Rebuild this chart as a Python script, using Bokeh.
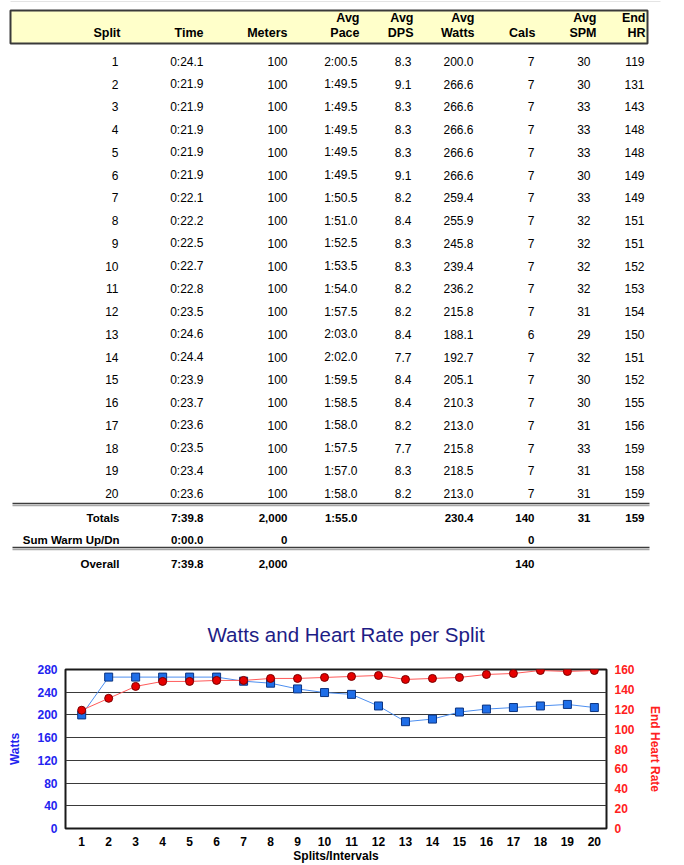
from bokeh.plotting import figure
from bokeh.models import Range1d, LinearAxis
from bokeh.core.properties import value
from bokeh.embed import file_html
from bokeh.resources import INLINE

# ---------------- data ----------------
splits = [1, 2, 3, 4, 5, 6, 7, 8, 9, 10, 11, 12, 13, 14, 15, 16, 17, 18, 19, 20]
times = ["0:24.1", "0:21.9", "0:21.9", "0:21.9", "0:21.9", "0:21.9", "0:22.1", "0:22.2",
         "0:22.5", "0:22.7", "0:22.8", "0:23.5", "0:24.6", "0:24.4", "0:23.9", "0:23.7",
         "0:23.6", "0:23.5", "0:23.4", "0:23.6"]
meters = [100, 100, 100, 100, 100, 100, 100, 100, 100, 100,
          100, 100, 100, 100, 100, 100, 100, 100, 100, 100]
paces = ["2:00.5", "1:49.5", "1:49.5", "1:49.5", "1:49.5", "1:49.5", "1:50.5", "1:51.0",
         "1:52.5", "1:53.5", "1:54.0", "1:57.5", "2:03.0", "2:02.0", "1:59.5", "1:58.5",
         "1:58.0", "1:57.5", "1:57.0", "1:58.0"]
dps = [8.3, 9.1, 8.3, 8.3, 8.3, 9.1, 8.2, 8.4, 8.3, 8.3,
       8.2, 8.2, 8.4, 7.7, 8.4, 8.4, 8.2, 7.7, 8.3, 8.2]
watts = [200.0, 266.6, 266.6, 266.6, 266.6, 266.6, 259.4, 255.9, 245.8, 239.4,
         236.2, 215.8, 188.1, 192.7, 205.1, 210.3, 213.0, 215.8, 218.5, 213.0]
cals = [7, 7, 7, 7, 7, 7, 7, 7, 7, 7, 7, 7, 6, 7, 7, 7, 7, 7, 7, 7]
spm = [30, 30, 33, 33, 33, 30, 33, 32, 32, 32, 32, 31, 29, 32, 30, 30, 31, 33, 31, 31]
end_hr = [119, 131, 143, 148, 148, 149, 149, 151, 151, 152,
          153, 154, 150, 151, 152, 155, 156, 159, 158, 159]

header_top = ["", "", "", "Avg", "Avg", "Avg", "", "Avg", "End"]
header_bottom = ["Split", "Time", "Meters", "Pace", "DPS", "Watts", "Cals", "SPM", "HR"]
totals_row = ["Totals", "7:39.8", "2,000", "1:55.0", "", "230.4", "140", "31", "159"]
warm_row = ["Sum Warm Up/Dn", "0:00.0", "0", "", "", "", "0", "", ""]
overall_row = ["Overall", "7:39.8", "2,000", "", "", "", "140", "", ""]

watt_ticks = [0, 40, 80, 120, 160, 200, 240, 280]
hr_ticks = [0, 20, 40, 60, 80, 100, 120, 140, 160]

chart_title = "Watts and Heart Rate per Split"

# ---------------- layout (page pixel coordinates) ----------------
FONT = value("Liberation Sans")
W = 684
H_TABLE = 590
H_CHART = 275
data_right = [118, 203, 287, 357, 411, 473, 534, 590, 644]
head_right = [120, 203, 287, 359, 413, 474, 535, 596, 645]
row_y0 = 61.0
row_dy = 22.74
summary_y = [517, 539.5, 563]
rule_y = [503, 547]

t = figure(width=W, height=H_TABLE, x_range=Range1d(0, W),
           y_range=Range1d(H_TABLE, 0), output_backend="svg",
           toolbar_location=None, min_border=0,
           x_axis_location=None, y_axis_location=None)
t.grid.visible = False
t.outline_line_color = None

# faint top rule
t.segment(x0=[10], y0=[1], x1=[660], y1=[1], line_color="#e4e4e4", line_width=1)

# header box
t.quad(left=[10], right=[647], top=[10], bottom=[43],
       fill_color="#FFFFCA", line_color="#3a3a3a", line_width=2)

hx, hy, ht = [], [], []
for i in range(9):
    if header_top[i]:
        hx.append(head_right[i]); hy.append(17.5); ht.append(header_top[i])
    hx.append(head_right[i]); hy.append(32.5); ht.append(header_bottom[i])
t.text(x=hx, y=hy, text=ht, text_font=FONT, text_font_style="bold",
       text_font_size="12.5px", text_align="right", text_baseline="middle",
       text_color="#000000")

# data rows
dx, dy, dt = [], [], []
for r in range(20):
    vals = [str(splits[r]), times[r], str(meters[r]), paces[r], f"{dps[r]:.1f}",
            f"{watts[r]:.1f}", str(cals[r]), str(spm[r]), str(end_hr[r])]
    y = row_y0 + r * row_dy
    for i, v in enumerate(vals):
        dx.append(data_right[i]); dy.append(y); dt.append(v)
t.text(x=dx, y=dy, text=dt, text_font=FONT, text_font_size="12px",
       text_align="right", text_baseline="middle", text_color="#000000")

# summary rows
sx, sy, st = [], [], []
for y, row in zip(summary_y, [totals_row, warm_row, overall_row]):
    for i, v in enumerate(row):
        if v:
            sx.append(data_right[i] + (1 if i == 0 else 0)); sy.append(y); st.append(v)
t.text(x=sx, y=sy, text=st, text_font=FONT, text_font_style="bold",
       text_font_size="11.5px", text_align="right", text_baseline="middle",
       text_color="#000000")

# double rules
for yy in rule_y:
    t.segment(x0=[12], y0=[yy], x1=[649], y1=[yy], line_color="#3c3c3c", line_width=1.6)
    t.segment(x0=[12], y0=[yy + 2], x1=[649], y1=[yy + 2], line_color="#a8a8a8", line_width=1.4)

# ---------------- chart ----------------
BLUE = "#2323f0"
RED = "#ff2020"
c = figure(width=W, height=H_CHART, x_range=Range1d(0.4, 20.45), y_range=Range1d(0, 280),
           output_backend="svg", toolbar_location=None,
           min_border_left=65, min_border_right=78, min_border_top=79, min_border_bottom=37,
           title=chart_title)
c.title.text_font = "Liberation Sans"
c.title.text_font_size = "20.5px"
c.title.text_font_style = "normal"
c.title.text_color = "#1d1d86"
c.title.align = "left"
c.title.offset = 142
c.title.standoff = 47

c.extra_y_ranges = {"hr": Range1d(0, 160)}

c.xaxis.ticker = splits
c.xaxis.axis_label = "Splits/Intervals"
c.yaxis.ticker = watt_ticks
c.yaxis.axis_label = "Watts"

right = LinearAxis(y_range_name="hr", ticker=hr_ticks, axis_label="End Heart Rate")
c.add_layout(right, "right")

for ax, col in ((c.xaxis[0], "#000000"), (c.yaxis[0], BLUE), (right, RED)):
    ax.axis_line_color = None
    ax.major_tick_line_color = None
    ax.minor_tick_line_color = None
    ax.major_tick_out = 0
    ax.major_tick_in = 0
    ax.minor_tick_out = 0
    ax.minor_tick_in = 0
    ax.major_label_text_font = "Liberation Sans"
    ax.major_label_text_font_style = "bold"
    ax.major_label_text_font_size = "12px"
    ax.major_label_text_color = col
    ax.axis_label_text_font = "Liberation Sans"
    ax.axis_label_text_font_style = "bold"
    ax.axis_label_text_font_size = "12px"
    ax.axis_label_text_color = col

c.xaxis.major_label_standoff = 8
c.xaxis.axis_label_standoff = 0
c.yaxis.major_label_standoff = 8
c.yaxis.axis_label_standoff = 12
right.major_label_standoff = 8
right.axis_label_standoff = 10

c.xgrid.grid_line_color = None
c.ygrid.ticker = watt_ticks
c.ygrid.grid_line_color = "#3a3a3a"
c.ygrid.grid_line_width = 1
c.outline_line_color = "#1a1a1a"
c.outline_line_width = 2

c.line(splits, watts, line_color="#4d8ff0", line_width=1)
c.scatter(splits, watts, marker="square", size=8, fill_color="#1f6ee8", line_color="#0c3480")
c.line(splits, end_hr, y_range_name="hr", line_color="#ff5a5a", line_width=1)
c.scatter(splits, end_hr, y_range_name="hr", marker="circle", size=8,
          fill_color="#e60000", line_color="#7a0000")

open("out.html", "w").write(file_html([t, c], INLINE))
